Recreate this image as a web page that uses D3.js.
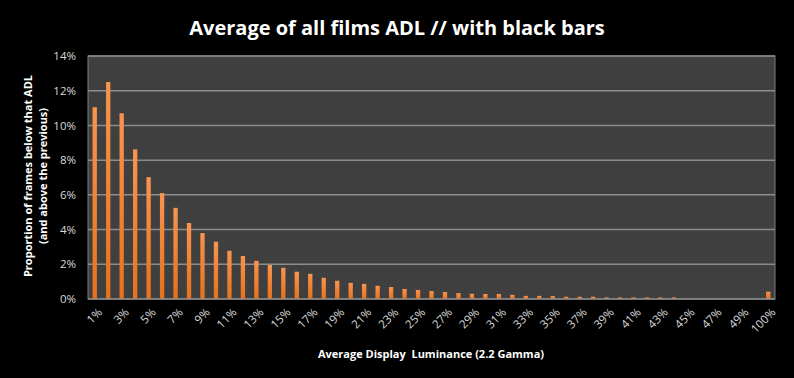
<!DOCTYPE html>
<html>
<head>
<meta charset="utf-8">
<script src="https://cdn.jsdelivr.net/npm/d3@7"></script>
<style>
  html, body { margin: 0; padding: 0; background: #000; }
  svg { display: block; }
  text { font-family: "Open Sans", "Liberation Sans", sans-serif; }
</style>
</head>
<body>
<script>
// luminance buckets 1%..50% then 100%
var categories = d3.range(1, 51).map(function (d) { return d + "%"; }).concat(["100%"]);

// proportion of frames (%) per bucket
var values = [
    11.05, 12.5, 10.7, 8.62, 7.02, 6.1, 5.25, 4.38, 3.8, 3.3,
    2.78, 2.48, 2.2, 1.96, 1.8, 1.57, 1.45, 1.22, 1.05, 0.93,
    0.87, 0.76, 0.69, 0.58, 0.52, 0.46, 0.4, 0.34, 0.3, 0.29,
    0.29, 0.24, 0.18, 0.18, 0.17, 0.13, 0.13, 0.13, 0.09, 0.09,
    0.09, 0.09, 0.09, 0.09, 0, 0, 0, 0, 0, 0,
    0.42
];

var yTicks = [0, 2, 4, 6, 8, 10, 12, 14];

var width = 794
  , height = 378
  , margin = { top: 56, right: 19, bottom: 79, left: 88 }
  ;

var svg = d3.select("body").append("svg")
    .attr("width", width)
    .attr("height", height);

var defs = svg.append("defs");

// dotted dark gray plot background
var pat = defs.append("pattern")
    .attr("id", "dots")
    .attr("width", 2)
    .attr("height", 2)
    .attr("patternUnits", "userSpaceOnUse");
pat.append("rect").attr("width", 2).attr("height", 2).attr("fill", "#444");
pat.append("rect").attr("width", 1).attr("height", 1).attr("fill", "#393939");
pat.append("rect").attr("x", 1).attr("y", 1).attr("width", 1).attr("height", 1).attr("fill", "#3c3c3c");

var grad = defs.append("linearGradient")
    .attr("id", "bar")
    .attr("x1", 0).attr("y1", 0).attr("x2", 0).attr("y2", 1);
grad.append("stop").attr("offset", "0%").attr("stop-color", "#f9944f");
grad.append("stop").attr("offset", "100%").attr("stop-color", "#e8711a");

var x = d3.scaleBand()
    .domain(categories)
    .range([margin.left, width - margin.right])
    .paddingInner(0.68)
    .paddingOuter(0.34);

var y = d3.scaleLinear()
    .domain([0, 14])
    .range([height - margin.bottom, margin.top]);

svg.append("rect")
    .attr("x", margin.left)
    .attr("y", margin.top)
    .attr("width", width - margin.left - margin.right)
    .attr("height", height - margin.top - margin.bottom)
    .attr("fill", "url(#dots)")
    .attr("stroke", "#7f7f7f")
    .attr("stroke-width", 1);

// gridlines
svg.append("g")
    .selectAll("line")
    .data(yTicks.slice(1))
    .enter().append("line")
    .attr("x1", margin.left)
    .attr("x2", width - margin.right)
    .attr("y1", function (d) { return y(d); })
    .attr("y2", function (d) { return y(d); })
    .attr("stroke", "#8c8c8c")
    .attr("stroke-width", 1.5);

svg.append("g")
    .selectAll("rect")
    .data(values)
    .enter().append("rect")
    .attr("x", function (d, i) { return x(categories[i]); })
    .attr("width", x.bandwidth())
    .attr("y", function (d) { return y(d); })
    .attr("height", function (d) { return y(0) - y(d); })
    .attr("fill", "url(#bar)");

// baseline
svg.append("line")
    .attr("x1", margin.left)
    .attr("x2", width - margin.right)
    .attr("y1", y(0))
    .attr("y2", y(0))
    .attr("stroke", "#8c8c8c")
    .attr("stroke-width", 1.5);

// y axis
var yAxis = svg.append("g")
    .attr("transform", "translate(" + margin.left + ",0)")
    .call(d3.axisLeft(y).tickValues(yTicks).tickSize(0).tickPadding(12)
        .tickFormat(function (d) { return d + "%"; }));
yAxis.select(".domain").remove();
yAxis.selectAll("text")
    .attr("fill", "#d9d9d9")
    .style("font-size", "11.5px");

// x axis, every other label
var xAxis = svg.append("g")
    .attr("transform", "translate(0," + y(0) + ")")
    .call(d3.axisBottom(x)
        .tickValues(categories.filter(function (d, i) { return i % 2 === 0; }))
        .tickSize(0));
xAxis.select(".domain").remove();
xAxis.selectAll("text")
    .attr("fill", "#d9d9d9")
    .style("font-size", "11.5px")
    .attr("text-anchor", "end")
    .attr("dy", 0)
    .attr("transform", "translate(6,12) rotate(-45)");

svg.append("text")
    .attr("x", width / 2)
    .attr("y", 35)
    .attr("text-anchor", "middle")
    .attr("fill", "#fff")
    .style("font-size", "20px")
    .style("font-weight", "bold")
    .text("Average of all films ADL // with black bars");

svg.append("text")
    .attr("x", 431)
    .attr("y", 358)
    .attr("text-anchor", "middle")
    .attr("fill", "#fff")
    .style("font-size", "11px")
    .style("font-weight", "bold")
    .style("white-space", "pre")
    .attr("xml:space", "preserve")
    .text("Average Display  Luminance (2.2 Gamma)");

var yt = svg.append("text")
    .attr("transform", "translate(32,176) rotate(-90)")
    .attr("text-anchor", "middle")
    .attr("fill", "#fff")
    .style("font-size", "11px")
    .style("font-weight", "bold");
yt.append("tspan").attr("x", 0).attr("y", 0).text("Proportion of frames below that ADL");
yt.append("tspan").attr("x", 0).attr("y", 15).text("(and above the previous)");
</script>
</body>
</html>
